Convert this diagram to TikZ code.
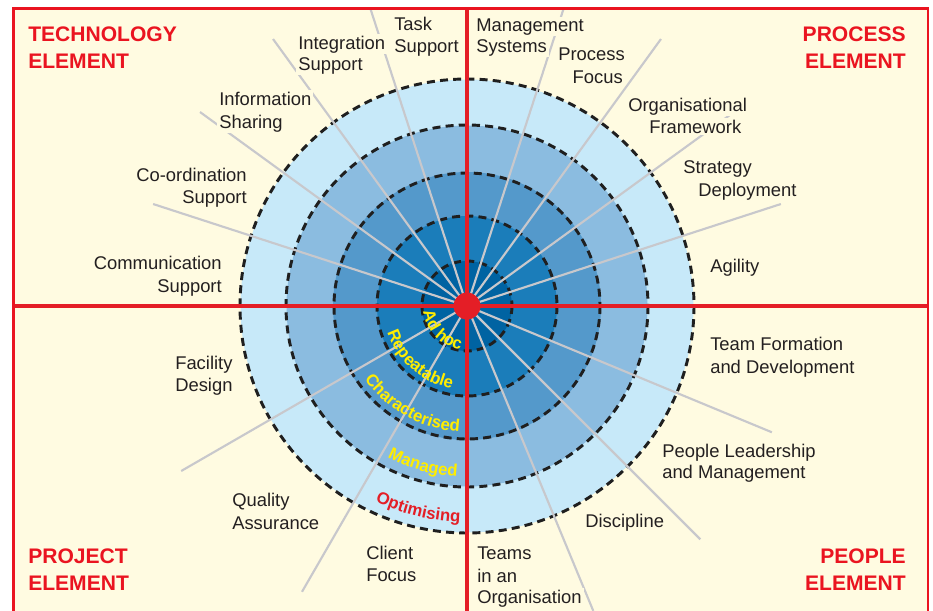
\documentclass[tikz,border=0pt]{standalone}
\usepackage{fontspec}
\setmainfont{Liberation Sans}
\usetikzlibrary{calc,decorations.text}

\definecolor{cream}{RGB}{255,251,225}
\definecolor{ringA}{RGB}{0,99,162}
\definecolor{ringB}{RGB}{27,125,186}
\definecolor{ringC}{RGB}{84,153,203}
\definecolor{ringD}{RGB}{139,188,224}
\definecolor{ringE}{RGB}{199,233,249}
\definecolor{framered}{RGB}{234,20,32}
\definecolor{crossred}{RGB}{228,30,38}
\definecolor{spokegray}{RGB}{200,200,204}
\definecolor{inkgray}{RGB}{35,31,32}
\definecolor{levelyellow}{RGB}{255,237,0}

\newcommand\lblfont{\fontsize{13.8pt}{16pt}\selectfont}
\newcommand\ttlfont{\fontsize{15.8pt}{18pt}\selectfont\bfseries}
\newcommand\lvlfont{\fontsize{12.6pt}{13pt}\selectfont\bfseries}

\begin{document}
\begin{tikzpicture}[x=0.75pt,y=-0.75pt,
  lbl/.style={font=\lblfont, text=inkgray, fill=cream, inner xsep=1.5pt, inner ysep=1pt},
  lw/.style={lbl, anchor=base west, xshift=-1.5pt},
  le/.style={lbl, anchor=base east, xshift=1.5pt},
  ttlw/.style={font=\ttlfont, text=framered, inner sep=0pt, anchor=base west},
  ttle/.style={font=\ttlfont, text=framered, inner sep=0pt, anchor=base east},
  spoke/.style={draw=spokegray, line width=1.6pt},
  level/.style={draw=black!88, line width=2.2pt, dash pattern=on 6pt off 3.9pt},
  cross/.style={draw=crossred, line width=2.8pt},
  lvltext/.style={decorate, decoration={text along path, text align=center, text={#1}}}
]
\useasboundingbox (0,0) rectangle (933,611);
\clip (0,0) rectangle (933,611);
\fill[white] (0,0) rectangle (933,611);

% frame corners and centre of the maturity rings
\coordinate (NW) at (13.8,8.7);
\coordinate (SE) at (928,640);
\coordinate (c) at (467,306);
\coordinate (W) at (13.8,306);
\coordinate (E) at (928,306);
\coordinate (N) at (467,8.7);
\coordinate (S) at (467,611);

\fill[cream] (NW) rectangle (SE);

% maturity rings
\fill[ringE] (c) circle[radius=226.5];
\fill[ringD] (c) circle[radius=180.5];
\fill[ringC] (c) circle[radius=134];
\fill[ringB] (c) circle[radius=90];
\fill[ringA] (c) circle[radius=45];

% ring boundaries
\foreach \r in {227,181,133,90,45}
  \draw[level] (c) circle[radius=\r];

% spokes, kept inside the frame
\begin{scope}
  \clip (NW) rectangle (SE);
  \foreach \a in {-18,-36,-54,-72,-108,-126,-144,-162,22.5,45,67.5,150,120}
    \draw[spoke] (c) -- ++(\a:330);
\end{scope}

% quadrant axes and hub
\draw[cross] (W) -- (E);
\draw[cross] (N) -- (S);
\fill[crossred] (c) circle[radius=13.5];

% level names along the rings
\path[lvltext={|\lvlfont\color{levelyellow}|Ad hoc}]
  ($(c)+(-164.5:44)$) arc[start angle=-164.5, end angle=-284.5, radius=44];
\path[lvltext={|\lvlfont\color{levelyellow}|Repeatable}]
  ($(c)+(-169:84)$) arc[start angle=-169, end angle=-289, radius=84];
\path[lvltext={|\lvlfont\color{levelyellow}|Characterised}]
  ($(c)+(-181:126)$) arc[start angle=-181, end angle=-301, radius=126];
\path[lvltext={|\lvlfont\color{levelyellow}|Managed}]
  ($(c)+(-194.5:171)$) arc[start angle=-194.5, end angle=-314.5, radius=171];
\path[lvltext={|\lvlfont\color{crossred}|Optimising}]
  ($(c)+(-196.5:216)$) arc[start angle=-196.5, end angle=-316.5, radius=216];

% frame
\draw[framered, line width=2.1pt] (NW) rectangle (SE);

% element titles
\node[ttlw] (techA) at (28,41) {TECHNOLOGY};
\node[ttlw] (techB) at (28,68) {ELEMENT};
\node[ttle] (procA) at (906,41) {PROCESS};
\node[ttle] (procB) at (906,68) {ELEMENT};
\node[ttlw] (projA) at (28,563) {PROJECT};
\node[ttlw] (projB) at (28,590) {ELEMENT};
\node[ttle] (peopA) at (906,563) {PEOPLE};
\node[ttle] (peopB) at (906,590) {ELEMENT};

% technology element
\node[lw] (taskA) at (394,30) {Task};
\node[lw] (taskB) at (394,52) {Support};
\node[lw] (intA) at (298,49) {Integration};
\node[lw] (intB) at (298,70) {Support};
\node[lw] (infA) at (219,105) {Information};
\node[lw] (infB) at (219,128) {Sharing};
\node[le] (cooA) at (247,181) {Co-ordination};
\node[le] (cooB) at (247,203) {Support};
\node[le] (comA) at (222,269) {Communication};
\node[le] (comB) at (222,292) {Support};

% process element
\node[lw] (mgtA) at (476,31) {Management};
\node[lw] (mgtB) at (476,52) {Systems};
\node[le] (pfA) at (625,60) {Process};
\node[le] (pfB) at (623,83) {Focus};
\node[lw] (orgA) at (628,111) {Organisational};
\node[lw] (orgB) at (649,133) {Framework};
\node[lw] (strA) at (683,173) {Strategy};
\node[lw] (strB) at (698,196) {Deployment};
\node[lw] (agi) at (710,272) {Agility};

% project element
\node[lw] (facA) at (175,369) {Facility};
\node[lw] (facB) at (175,391) {Design};
\node[lw] (qaA) at (232,506) {Quality};
\node[lw] (qaB) at (232,529) {Assurance};
\node[lw] (cliA) at (366,559) {Client};
\node[lw] (cliB) at (366,581) {Focus};

% people element
\node[lw] (tfA) at (710,350) {Team Formation};
\node[lw] (tfB) at (710,373) {and Development};
\node[lw] (plA) at (662,457) {People Leadership};
\node[lw] (plB) at (662,478) {and Management};
\node[lw] (dis) at (585,527) {Discipline};
\node[lw] (tioA) at (477,559) {Teams};
\node[lw] (tioB) at (477,582) {in an};
\node[lw] (tioC) at (477,603) {Organisation};
\end{tikzpicture}
\end{document}
